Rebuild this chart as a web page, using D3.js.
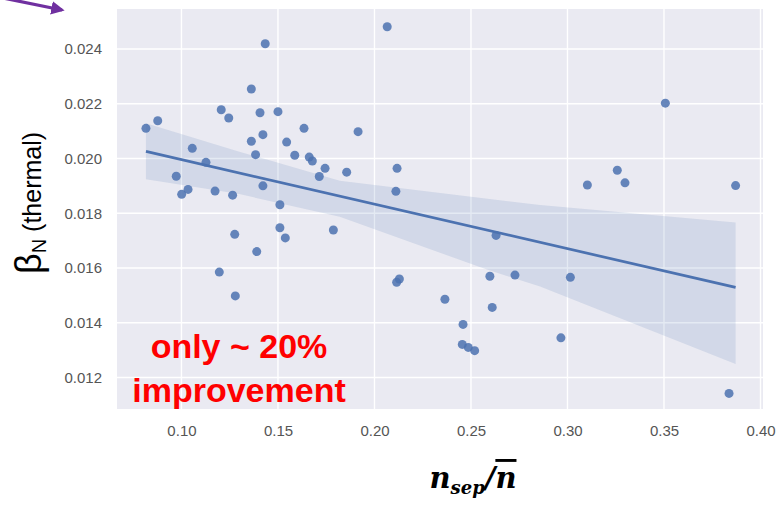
<!DOCTYPE html>
<html><head><meta charset="utf-8">
<script src="https://cdn.jsdelivr.net/npm/d3@7"></script>
<style>body{margin:0;background:#fff}svg{display:block}</style>
</head><body>
<svg id="chart" width="783" height="506"></svg>
<script>
// ---- data ----
const xVals = [0.0816,0.0877,0.0973,0.1001,0.1034,0.1056,0.1127,0.1174,0.1206,0.1245,0.1265,0.1276,0.1362,0.1362,0.1384,0.1407,0.1422,0.1422,0.1434,0.1390,0.1500,0.1510,0.1510,0.1538,0.1545,0.1587,0.1635,0.1662,0.1678,0.1714,0.1744,0.1787,0.1856,0.1915,0.2066,0.2117,0.2111,0.1196,0.1279,0.2115,0.2129,0.3507,0.3103,0.3258,0.3298,0.3871,0.2630,0.2598,0.2728,0.3015,0.2365,0.2610,0.2459,0.2455,0.2486,0.2519,0.2966,0.3837];
const yVals = [0.02110,0.02138,0.01935,0.01869,0.01887,0.02037,0.01986,0.01881,0.02178,0.02148,0.01866,0.01723,0.02254,0.02063,0.02014,0.02167,0.02087,0.01900,0.02419,0.01660,0.02171,0.01831,0.01747,0.01710,0.02060,0.02012,0.02110,0.02005,0.01991,0.01934,0.01964,0.01739,0.01950,0.02098,0.02481,0.01964,0.01880,0.01585,0.01498,0.01548,0.01560,0.02202,0.01903,0.01957,0.01911,0.01901,0.01719,0.01570,0.01574,0.01566,0.01486,0.01456,0.01394,0.01321,0.01310,0.01298,0.01345,0.01142];
const fitX = [0.0816, 0.3871];
const fitY = [0.02026, 0.01529];
const ciX    = [0.0816, 0.1300, 0.1820, 0.2564, 0.2858, 0.3871];
const ciHigh = [0.02129,0.02025,0.01919,0.01855,0.01830,0.01766];
const ciLow  = [0.01924,0.01870,0.01787,0.01599,0.01532,0.01249];
const xTicks = [0.10,0.15,0.20,0.25,0.30,0.35,0.40];
const yTicks = [0.012,0.014,0.016,0.018,0.020,0.022,0.024];
const noteLines = ["only ~ 20%", "improvement"];

const svg = d3.select("#chart");
const L=117, R=763, T=9, B=409;
const x = d3.scaleLinear().domain([0.0666,0.4013]).range([L,R]);
const y = d3.scaleLinear().domain([0.01085,0.02546]).range([B,T]);

// panel
svg.append("rect").attr("x",L).attr("y",T).attr("width",R-L).attr("height",B-T).attr("fill","#EAEAF2");
// grid
svg.append("g").selectAll("line").data(xTicks).join("line")
  .attr("x1",d=>x(d)).attr("x2",d=>x(d)).attr("y1",T).attr("y2",B)
  .attr("stroke","#fff").attr("stroke-width",1.4);
svg.append("g").selectAll("line").data(yTicks).join("line")
  .attr("y1",d=>y(d)).attr("y2",d=>y(d)).attr("x1",L).attr("x2",R)
  .attr("stroke","#fff").attr("stroke-width",1.4);

// axes
const ax = svg.append("g").attr("transform",`translate(0,${B})`)
  .call(d3.axisBottom(x).tickValues(xTicks).tickFormat(d3.format(".2f")).tickSize(0).tickPadding(16));
const ay = svg.append("g").attr("transform",`translate(${L},0)`)
  .call(d3.axisLeft(y).tickValues(yTicks).tickFormat(d3.format(".3f")).tickSize(0).tickPadding(15));
[ax,ay].forEach(g=>{
  g.select(".domain").remove();
  g.selectAll("text").attr("font-family","Liberation Sans, Arial, sans-serif").attr("font-size",15).attr("fill","#555");
});

// confidence band
const ci = ciX.map((d,i)=>({x:d,lo:ciLow[i],hi:ciHigh[i]}));
svg.append("path").datum(ci)
  .attr("d", d3.area().x(d=>x(d.x)).y0(d=>y(d.lo)).y1(d=>y(d.hi)))
  .attr("fill","#4C72B0").attr("fill-opacity",0.15);

// points
const pts = xVals.map((d,i)=>({x:d,y:yVals[i]}));
svg.append("g").selectAll("circle").data(pts).join("circle")
  .attr("cx",d=>x(d.x)).attr("cy",d=>y(d.y)).attr("r",4.5)
  .attr("fill","#4C72B0").attr("fill-opacity",0.85);

// regression line
svg.append("path").datum(fitX.map((d,i)=>({x:d,y:fitY[i]})))
  .attr("d", d3.line().x(d=>x(d.x)).y(d=>y(d.y)))
  .attr("fill","none").attr("stroke","#4C72B0").attr("stroke-width",2.7);

// y label
const yl = svg.append("text").attr("transform","translate(41,203) rotate(-90)")
  .attr("text-anchor","middle").attr("font-family","Liberation Sans, Arial, sans-serif").attr("fill","#000");
yl.append("tspan").attr("font-size",36).text("β");
yl.append("tspan").attr("font-size",20).attr("dy",5).text("N");
yl.append("tspan").attr("font-size",25).attr("dy",-5).text(" (thermal)");

// x label
const xl = svg.append("text").attr("x",473).attr("y",488).attr("text-anchor","middle")
  .attr("font-family","DejaVu Serif, serif").attr("font-weight","bold").attr("font-style","italic").attr("fill","#000");
xl.append("tspan").attr("font-size",29).text("n");
xl.append("tspan").attr("font-size",18).attr("dy",6).text("sep");
xl.append("tspan").attr("font-size",29).attr("dy",-6).text("/");
xl.append("tspan").attr("font-size",29).style("text-decoration","overline").text("n");

// red note
svg.append("g").selectAll("text").data(noteLines).join("text")
  .attr("x",239).attr("y",(d,i)=>358+i*44).attr("text-anchor","middle")
  .attr("font-family","Liberation Sans, Arial, sans-serif").attr("font-weight","bold")
  .attr("font-size",34).attr("fill","#FF0000").text(d=>d);

// purple arrow (decoration)
const defs = svg.append("defs");
defs.append("marker").attr("id","ah").attr("viewBox","0 0 10 10").attr("refX",8).attr("refY",5)
  .attr("markerWidth",4.2).attr("markerHeight",4.2).attr("orient","auto")
  .append("path").attr("d","M0,0 L10,5 L0,10 Z").attr("fill","#7030A0");
svg.append("path").attr("d","M-2,-3 L62,10").attr("stroke","#7030A0").attr("stroke-width",3.2)
  .attr("marker-end","url(#ah)");
</script>
</body></html>
